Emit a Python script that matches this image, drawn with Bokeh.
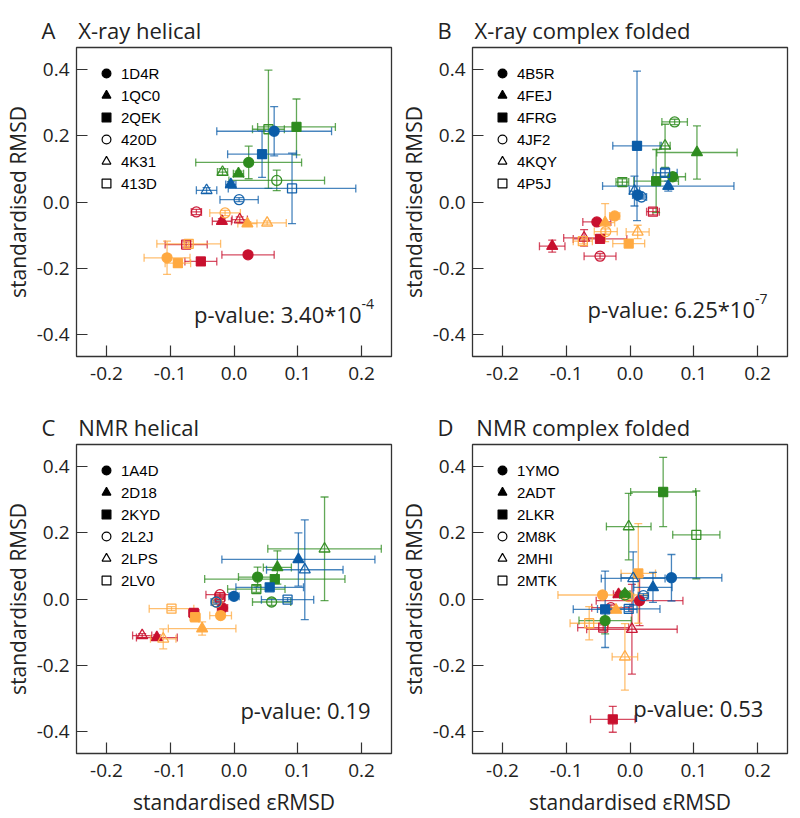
from bokeh.plotting import figure
from bokeh.models import (ColumnDataSource, Whisker, TeeHead, Range1d, FixedTicker,
                          PrintfTickFormatter, Label, Legend, LegendItem, Spacer)
from bokeh.layouts import column, row
from bokeh.embed import file_html
from bokeh.resources import INLINE

# ---------------- data ----------------
# colour groups (order of the 24 values in each array: 4 groups x 6 structures)
group_colors = ["#C8102E", "#FFA940", "#2E8B1F", "#0B5CA8"]
shapes = ["circle", "triangle", "square", "circle", "triangle", "square"]
filled = [True, True, True, False, False, False]

A_names = ["1D4R", "1QC0", "2QEK", "420D", "4K31", "413D"]
A_x = [0.022, -0.019, -0.052, -0.059, 0.009, -0.075,
       -0.105, 0.021, -0.088, -0.014, 0.052, -0.071,
       0.023, 0.007, 0.098, 0.067, -0.018, 0.054,
       0.063, -0.005, 0.044, 0.008, -0.043, 0.091]
A_y = [-0.159, -0.058, -0.179, -0.030, -0.053, -0.128,
       -0.168, -0.065, -0.184, -0.033, -0.063, -0.126,
       0.119, 0.085, 0.226, 0.065, 0.090, 0.219,
       0.213, 0.053, 0.144, 0.007, 0.035, 0.041]
A_xerr = [0.041, 0.015, 0.025, 0.008, 0.012, 0.033,
          0.036, 0.015, 0.020, 0.024, 0.030, 0.050,
          0.083, 0.008, 0.061, 0.075, 0.008, 0.025,
          0.090, 0.008, 0.054, 0.030, 0.016, 0.100]
A_yerr = [0.008, 0.008, 0.008, 0.008, 0.008, 0.008,
          0.050, 0.006, 0.008, 0.008, 0.006, 0.008,
          0.049, 0.008, 0.084, 0.031, 0.010, 0.178,
          0.074, 0.008, 0.070, 0.006, 0.008, 0.106]

B_names = ["4B5R", "4FEJ", "4FRG", "4JF2", "4KQY", "4P5J"]
B_x = [-0.052, -0.122, -0.047, -0.047, -0.072, 0.036,
       -0.024, -0.039, -0.002, -0.038, 0.012, -0.074,
       0.067, 0.105, 0.041, 0.070, 0.055, -0.012,
       0.012, 0.060, 0.011, 0.018, 0.007, 0.055]
B_y = [-0.060, -0.133, -0.111, -0.163, -0.108, -0.029,
       -0.042, -0.062, -0.125, -0.089, -0.090, -0.118,
       0.076, 0.149, 0.063, 0.241, 0.169, 0.060,
       0.021, 0.048, 0.169, 0.015, 0.033, 0.088]
B_xerr = [0.022, 0.020, 0.042, 0.025, 0.032, 0.010,
          0.008, 0.015, 0.025, 0.018, 0.018, 0.015,
          0.020, 0.063, 0.035, 0.020, 0.008, 0.010,
          0.008, 0.103, 0.038, 0.008, 0.008, 0.019]
B_yerr = [0.006, 0.018, 0.008, 0.008, 0.025, 0.010,
          0.006, 0.057, 0.008, 0.008, 0.020, 0.008,
          0.008, 0.080, 0.095, 0.008, 0.065, 0.010,
          0.008, 0.015, 0.225, 0.006, 0.045, 0.010]

C_names = ["1A4D", "2D18", "2KYD", "2L2J", "2LPS", "2LV0"]
C_x = [-0.018, -0.121, -0.063, -0.022, -0.144, -0.022,
       -0.021, -0.050, -0.061, -0.027, -0.111, -0.098,
       0.037, 0.068, 0.064, 0.059, 0.142, 0.035,
       0.000, 0.101, 0.056, -0.028, 0.111, 0.084]
C_y = [-0.027, -0.116, -0.042, 0.013, -0.110, 0.005,
       -0.050, -0.089, -0.055, -0.010, -0.120, -0.029,
       0.066, 0.095, 0.060, -0.009, 0.151, 0.030,
       0.008, 0.119, 0.035, -0.009, 0.088, -0.002]
C_xerr = [0.008, 0.032, 0.008, 0.022, 0.015, 0.008,
          0.017, 0.053, 0.008, 0.008, 0.020, 0.035,
          0.030, 0.022, 0.110, 0.030, 0.089, 0.045,
          0.008, 0.120, 0.053, 0.008, 0.060, 0.041]
C_yerr = [0.006, 0.008, 0.006, 0.006, 0.006, 0.006,
          0.008, 0.020, 0.006, 0.006, 0.030, 0.006,
          0.030, 0.050, 0.010, 0.010, 0.156, 0.010,
          0.006, 0.080, 0.010, 0.006, 0.150, 0.006]

D_names = ["1YMO", "2ADT", "2LKR", "2M8K", "2MHI", "2MTK"]
D_x = [0.015, -0.018, -0.027, -0.030, 0.003, -0.042,
       -0.043, -0.022, 0.013, -0.002, -0.008, -0.064,
       -0.039, -0.008, 0.052, -0.008, -0.002, 0.104,
       0.065, 0.036, -0.039, 0.021, 0.005, -0.002]
D_y = [-0.005, 0.014, -0.362, -0.026, -0.091, -0.086,
       0.012, -0.033, 0.077, 0.007, -0.174, -0.073,
       -0.065, 0.015, 0.322, 0.012, 0.218, 0.193,
       0.064, 0.035, -0.031, 0.010, 0.062, -0.030]
D_xerr = [0.068, 0.008, 0.035, 0.030, 0.071, 0.040,
          0.070, 0.008, 0.027, 0.008, 0.020, 0.030,
          0.041, 0.008, 0.051, 0.008, 0.035, 0.037,
          0.079, 0.030, 0.050, 0.008, 0.050, 0.049]
D_yerr = [0.075, 0.006, 0.039, 0.008, 0.135, 0.008,
          0.010, 0.008, 0.150, 0.008, 0.100, 0.050,
          0.040, 0.006, 0.104, 0.008, 0.100, 0.132,
          0.070, 0.045, 0.115, 0.006, 0.080, 0.008]

x_ticks = [-0.2, -0.1, 0.0, 0.1, 0.2]
y_ticks = [-0.4, -0.2, 0.0, 0.2, 0.4]

FONT = "Open Sans"
TXT = "#222222"
NAN = float("nan")


def make_panel(letter, title, names, xs, ys, xerr, yerr, ptext, pexp, ppos,
               bottom_row):
    p = figure(frame_width=315, frame_height=309, output_backend="svg",
               toolbar_location=None,
               x_range=Range1d(-0.247, 0.247), y_range=Range1d(-0.465, 0.465),
               min_border_left=5, min_border_right=5,
               min_border_top=5, min_border_bottom=5 if bottom_row else 34)
    p.title.text = letter + "\u00a0\u00a0\u00a0\u00a0" + title
    p.title.align = "left"
    p.title.offset = -35
    p.title.text_font = FONT
    p.title.text_font_size = "22px"
    p.title.text_font_style = "normal"
    p.title.text_color = TXT
    p.title.standoff = 6

    p.xgrid.visible = False
    p.ygrid.visible = False
    p.outline_line_color = "#333333"
    p.outline_line_width = 1.3
    p.background_fill_color = "white"

    for ax, ticks in ((p.xaxis, x_ticks), (p.yaxis, y_ticks)):
        ax.ticker = FixedTicker(ticks=ticks)
        ax.formatter = PrintfTickFormatter(format="%.1f")
        ax.major_tick_in = 11
        ax.major_tick_out = 0
        ax.minor_tick_line_color = None
        ax.major_tick_line_color = "#333333"
        ax.major_tick_line_width = 1.2
        ax.axis_line_color = None
        ax.major_label_text_font = FONT
        ax.major_label_text_font_size = "19px"
        ax.major_label_text_color = TXT
        ax.axis_label_text_font = FONT
        ax.axis_label_text_font_size = "21px"
        ax.axis_label_text_font_style = "normal"
        ax.axis_label_text_color = TXT
    p.yaxis.major_label_standoff = 7
    p.xaxis.major_label_standoff = 10
    p.yaxis.axis_label = "standardised RMSD"
    p.yaxis.axis_label_standoff = 2
    if bottom_row:
        p.xaxis.axis_label = "standardised \u03b5RMSD"
        p.xaxis.axis_label_standoff = 8

    n = len(names)
    for g, col in enumerate(group_colors):
        sl = slice(g * n, (g + 1) * n)
        gx, gy = xs[sl], ys[sl]
        gxe, gye = xerr[sl], yerr[sl]
        src = ColumnDataSource(dict(
            x=gx, y=gy,
            xl=[a - b for a, b in zip(gx, gxe)], xu=[a + b for a, b in zip(gx, gxe)],
            yl=[a - b for a, b in zip(gy, gye)], yu=[a + b for a, b in zip(gy, gye)],
            marker=shapes,
            size=[10 if s == "circle" else (11 if s == "triangle" else 9) for s in shapes],
            falpha=[1.0 if f else 0.0 for f in filled],
        ))
        for dim, base, lo, up in (("width", "y", "xl", "xu"), ("height", "x", "yl", "yu")):
            w = Whisker(source=src, base=base, lower=lo, upper=up, dimension=dim,
                        line_color=col, line_alpha=0.75, line_width=1.3,
                        upper_head=TeeHead(size=8, line_color=col, line_alpha=0.75, line_width=1.3),
                        lower_head=TeeHead(size=8, line_color=col, line_alpha=0.75, line_width=1.3))
            p.add_layout(w)
        p.scatter("x", "y", source=src, marker="marker", size="size",
                  fill_color=col, fill_alpha="falpha", line_color=col,
                  line_width=1.3, line_alpha=0.95)

    # legend (black symbols); renderers hold no visible point
    items = []
    for name, s, f in zip(names, shapes, filled):
        r = p.scatter([NAN], [NAN], marker=s, size=9,
                      fill_color="black" if f else "white",
                      fill_alpha=1.0 if f else 0.0,
                      line_color="black", line_width=1.2)
        items.append(LegendItem(label=name, renderers=[r]))
    leg = Legend(items=items, location="top_left", margin=0, padding=15,
                 glyph_width=30, glyph_height=22, label_height=19, spacing=-3,
                 label_standoff=0, label_text_font="Liberation Sans",
                 label_text_font_size="15px", label_text_color="black",
                 background_fill_alpha=0, border_line_alpha=0)
    p.add_layout(leg)

    # p-value annotation
    px, py = ppos
    if pexp:
        p.add_layout(Label(x=px, y=py, text=ptext, text_align="right",
                           text_baseline="alphabetic", text_font=FONT,
                           text_font_size="22px", text_color=TXT))
        p.add_layout(Label(x=px, y=py + 0.03, text=pexp, text_align="left",
                           text_baseline="alphabetic", text_font=FONT,
                           text_font_size="14px", text_color=TXT))
    else:
        p.add_layout(Label(x=px, y=py, text=ptext, text_align="left",
                           text_baseline="alphabetic", text_font=FONT,
                           text_font_size="22px", text_color=TXT))
    return p


pA = make_panel("A", "X-ray helical", A_names, A_x, A_y, A_xerr, A_yerr,
                "p-value: 3.40*10", "-4", (0.200, -0.337), False)
pB = make_panel("B", "X-ray complex folded", B_names, B_x, B_y, B_xerr, B_yerr,
                "p-value: 6.25*10", "-7", (0.196, -0.322), False)
pC = make_panel("C", "NMR helical", C_names, C_x, C_y, C_xerr, C_yerr,
                "p-value: 0.19", "", (0.010, -0.335), True)
pD = make_panel("D", "NMR complex folded", D_names, D_x, D_y, D_xerr, D_yerr,
                "p-value: 0.53", "", (0.005, -0.329), True)

layout = column(Spacer(height=9),
                row(pA, pB),
                Spacer(height=16),
                row(pC, pD))
open("out.html", "w").write(file_html(layout, INLINE))
